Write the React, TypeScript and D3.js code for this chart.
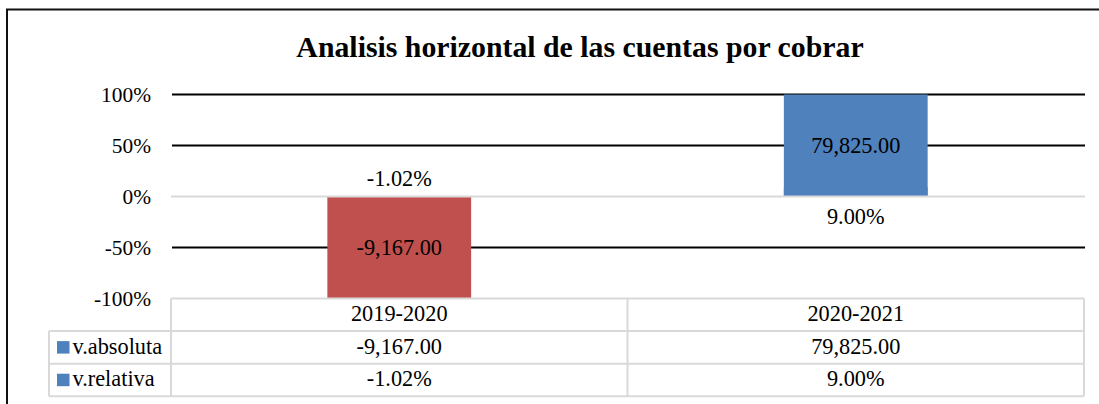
import React from "react";
import * as d3 from "d3";

const title = "Analisis horizontal de las cuentas por cobrar";
const categories = ["2019-2020", "2020-2021"];
const absolutaValues = [-9167.0, 79825.0];
const relativaValues = [-0.0102, 0.09];
const seriesNames = ["v.absoluta", "v.relativa"];
const yTicks = [1, 0.5, 0, -0.5, -1];

const W = 1099;
const H = 404;
const FONT = "'Liberation Serif', 'Times New Roman', serif";
const BLUE = "#4F81BD";
const RED = "#C0504D";
const GRID = "#D9D9D9";

const fmtAbs = (v: number) => d3.format(",.2f")(v).replace("−", "-");
const fmtRel = (v: number) => d3.format(".2%")(v).replace("−", "-");

export default function App() {
  const left = 171;
  const right = 1084;
  const x = d3.scaleBand<string>().domain(categories).range([left, right]).paddingInner(0).paddingOuter(0);
  const y = d3.scaleLinear().domain([-1, 1]).range([298.5, 94.5]).clamp(true);
  const barW = x.bandwidth() * 0.315;
  const fs = 22.3;
  const tickFs = 21.4;

  const tableTop = y(-1);
  const rowH = 32.6;
  const tableLeft = 49;
  const rows = [
    { name: seriesNames[0], vals: absolutaValues.map(fmtAbs) },
    { name: seriesNames[1], vals: relativaValues.map(fmtRel) },
  ];

  return (
    <svg width={W} height={H} style={{ position: "absolute", left: 0, top: 0 }} fontFamily={FONT}>
      <rect x={0} y={0} width={W} height={H} fill="#fff" />
      <rect x={7} y={9.5} width={W + 20} height={H + 20} fill="none" stroke="#111" strokeWidth={2} />
      <text x={580} y={56.5} textAnchor="middle" fontSize={29.8} fontWeight="bold" fill="#000">
        {title}
      </text>

      {/* gridlines */}
      {yTicks.map((t) => (
        <g key={t}>
          {t !== 0 && t !== -1 && (
            <line x1={left + 1} x2={right + 1} y1={y(t)} y2={y(t)} stroke="#000" strokeWidth={2} />
          )}
          <text x={151} y={y(t) + 7.5} textAnchor="end" fontSize={tickFs} fill="#000">
            {d3.format(".0%")(t).replace("−", "-")}
          </text>
        </g>
      ))}

      {/* relativa bars (behind) */}
      {categories.map((c, i) => {
        const v = relativaValues[i];
        const x0 = x(c)! + x.bandwidth() / 2 - barW / 2;
        return (
          <rect key={"r" + c} x={x0} y={Math.min(y(v), y(0))} width={barW}
            height={Math.abs(y(v) - y(0))} fill={BLUE} />
        );
      })}
      {/* absoluta bars */}
      {categories.map((c, i) => {
        const v = absolutaValues[i];
        const x0 = x(c)! + x.bandwidth() / 2 - barW / 2;
        return (
          <rect key={"a" + c} x={x0} y={Math.min(y(v), y(0))} width={barW}
            height={Math.abs(y(v) - y(0))} fill={v < 0 ? RED : BLUE} />
        );
      })}

      {/* zero axis */}
      <line x1={left} x2={right + 1} y1={y(0)} y2={y(0)} stroke={GRID} strokeWidth={2} />

      {/* data labels */}
      {categories.map((c, i) => {
        const cx = x(c)! + x.bandwidth() / 2;
        const va = absolutaValues[i];
        const vr = relativaValues[i];
        const absMid = (y(va) + y(0)) / 2;
        return (
          <g key={"l" + c} fontSize={fs} textAnchor="middle" fill="#000">
            <text x={cx} y={absMid + 7.5}>{fmtAbs(va)}</text>
            <text x={cx} y={vr < 0 ? y(0) - 11 : y(0) + 27}>{fmtRel(vr)}</text>
          </g>
        );
      })}

      {/* data table */}
      <g stroke={GRID} strokeWidth={2} fill="none">
        <line x1={left} x2={right} y1={tableTop} y2={tableTop} />
        {[1, 2, 3].map((r) => (
          <line key={r} x1={tableLeft} x2={right} y1={tableTop + r * rowH} y2={tableTop + r * rowH} />
        ))}
        <line x1={tableLeft} x2={tableLeft} y1={tableTop + rowH} y2={tableTop + 3 * rowH} />
        {[0, 1, 2].map((k) => {
          const xx = k === 0 ? left : k === 1 ? x(categories[1])! : right;
          return <line key={k} x1={xx} x2={xx} y1={tableTop} y2={tableTop + 3 * rowH} />;
        })}
      </g>
      {categories.map((c) => (
        <text key={"h" + c} x={x(c)! + x.bandwidth() / 2} y={tableTop + 22.5} textAnchor="middle" fontSize={fs} fill="#000">
          {c}
        </text>
      ))}
      {rows.map((r, ri) => {
        const ry = tableTop + (ri + 1) * rowH;
        return (
          <g key={r.name}>
            <rect x={57} y={ry + 10} width={12.5} height={12.5} fill={BLUE} />
            <text x={72.5} y={ry + 22.5} fontSize={fs} fill="#000">{r.name}</text>
            {r.vals.map((v, ci) => (
              <text key={ci} x={x(categories[ci])! + x.bandwidth() / 2} y={ry + 22.5} textAnchor="middle" fontSize={fs} fill="#000">
                {v}
              </text>
            ))}
          </g>
        );
      })}
    </svg>
  );
}
